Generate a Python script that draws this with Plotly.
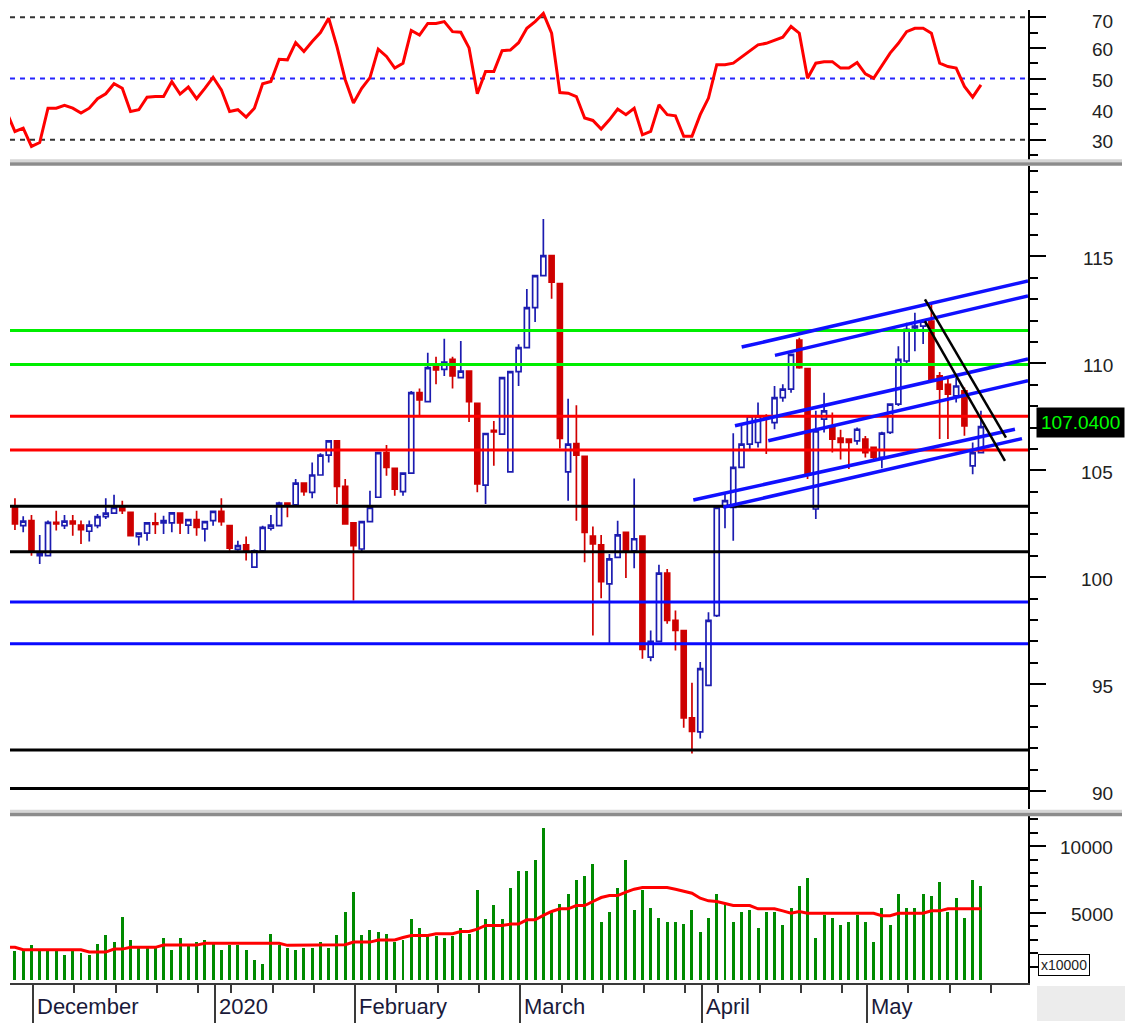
import plotly.graph_objects as go

# ---------------- data ----------------
bar_idx = list(range(118))
ind_idx = list(range(-1, 118))   # indicator lines start one session earlier (clipped at left edge)

opens = [103.27,102.41,102.65,101.01,101.01,102.57,102.41,102.62,102.44,102.15,
         102.41,102.83,103.00,103.27,103.03,101.90,102.06,102.54,102.54,102.54,
         103.00,102.44,102.69,102.26,102.65,103.08,102.41,101.30,101.52,100.47,
         101.24,102.29,102.41,103.47,103.38,104.40,103.97,104.78,105.71,106.38,
         104.25,102.54,101.32,102.60,103.74,105.83,105.09,104.00,104.87,108.63,
         108.21,109.88,109.72,110.19,109.33,109.64,108.13,104.31,106.87,106.69,
         104.93,109.61,110.73,112.60,114.10,115.04,113.73,104.93,106.25,105.65,
         101.92,101.51,99.69,100.93,102.10,101.24,101.92,96.27,97.00,100.19,
         97.98,97.51,93.43,92.77,94.95,98.21,103.30,103.27,105.14,106.22,
         106.30,107.54,107.23,108.40,108.79,111.09,109.75,103.19,107.39,107.08,
         106.50,106.46,106.38,106.46,106.07,105.60,106.77,108.09,110.11,111.66,
         111.74,111.97,109.41,109.02,108.48,108.71,105.21,105.83]
highs = [103.69,102.85,102.91,101.98,102.65,103.11,102.91,102.91,102.65,102.65,
         102.96,103.69,103.86,103.58,103.03,102.06,102.54,103.01,102.88,103.01,
         103.00,102.69,103.11,102.60,103.08,103.69,102.45,101.71,101.91,101.30,
         102.41,102.91,103.53,103.47,104.59,104.40,105.37,105.80,106.38,106.38,
         104.59,102.54,102.60,104.04,105.83,106.18,105.09,104.87,108.71,108.82,
         110.50,110.31,111.15,110.31,111.04,109.64,108.13,106.72,107.31,109.33,
         109.61,110.89,113.48,114.10,116.75,115.04,113.73,108.35,108.04,105.65,
         102.37,101.98,101.09,102.64,102.10,104.62,101.92,97.51,100.58,100.39,
         98.45,97.51,95.07,96.04,98.37,103.27,103.97,106.73,107.08,107.54,
         108.17,107.62,108.94,109.02,110.42,111.20,109.75,107.78,108.63,107.70,
         106.90,106.50,107.00,106.60,106.10,106.80,108.10,110.80,111.90,112.36,
         112.00,112.75,109.60,109.41,109.33,108.87,106.30,107.78]
lows = [102.21,102.10,101.01,100.62,101.01,102.18,102.26,101.94,101.56,101.67,
        102.29,102.72,102.96,102.96,101.94,101.48,101.71,102.02,102.02,102.10,
        102.02,102.02,101.94,101.67,102.41,102.41,101.24,101.24,100.78,100.47,
        101.24,102.18,102.41,102.80,103.38,103.81,103.69,104.78,105.37,103.42,
        102.49,98.91,101.20,102.60,103.74,104.74,103.81,103.81,104.87,107.57,
        108.21,109.02,109.41,108.82,109.33,107.26,103.97,103.42,105.21,106.69,
        104.93,108.94,110.73,111.93,114.10,113.02,106.02,103.58,102.64,100.70,
        97.28,99.02,96.89,100.93,99.96,100.42,96.19,96.07,97.00,97.83,
        96.58,92.96,91.76,92.46,94.95,98.14,102.29,101.71,105.14,105.99,
        106.07,105.76,106.92,108.20,108.63,109.75,104.59,102.72,106.77,105.83,
        105.50,105.06,106.20,105.60,105.50,105.10,106.70,108.00,110.00,110.57,
        110.90,109.20,106.46,106.46,108.17,106.62,104.82,105.83]
closes = [102.49,102.62,101.17,101.14,102.57,102.49,102.62,102.49,102.22,102.44,
          102.83,103.00,103.27,103.11,101.94,102.06,102.54,102.47,102.65,103.01,
          102.54,102.69,102.33,102.60,103.08,102.60,101.36,101.48,101.24,101.24,
          102.33,102.44,103.47,103.38,104.40,104.00,104.78,105.71,106.38,104.25,
          102.49,101.48,102.60,103.27,105.83,105.14,104.12,104.87,108.63,108.29,
          109.80,109.69,110.06,109.41,109.64,108.21,104.36,106.72,106.80,109.33,
          109.61,110.73,112.60,114.10,115.04,113.79,106.49,106.22,105.71,102.10,
          101.56,99.80,100.86,101.98,101.24,101.80,96.63,97.00,100.19,97.98,
          97.51,93.43,92.80,95.73,97.98,103.27,103.58,105.14,106.22,107.54,
          107.54,107.46,108.40,108.79,110.42,109.80,104.82,106.84,107.78,106.46,
          106.30,106.30,106.92,105.83,105.60,106.74,108.09,110.19,111.59,111.74,
          111.97,109.25,108.79,108.56,108.94,107.08,105.83,107.04]

rsi = [39.0,
       32.7,33.8,27.8,29.1,40.3,40.3,41.2,40.3,38.7,40.3,
       43.4,45.0,48.3,46.8,39.2,39.8,43.9,44.1,44.1,49.0,
       44.9,47.2,43.4,46.8,50.4,46.3,39.2,39.8,37.4,40.3,
       48.3,49.0,56.3,56.1,61.7,58.8,62.1,65.0,69.7,60.4,
       49.6,42.0,46.8,50.3,59.6,57.2,53.4,55.0,65.7,64.2,
       68.0,68.0,68.6,65.3,65.1,60.0,45.0,52.3,52.3,59.1,
       59.3,61.7,66.4,68.6,71.3,64.8,45.4,45.2,44.1,37.1,
       36.3,33.5,36.5,40.0,38.2,40.3,31.6,32.7,41.4,38.2,
       37.8,31.1,31.1,38.2,43.6,54.5,54.5,55.0,57.0,58.8,
       61.0,61.5,62.6,63.5,67.0,64.8,50.1,55.0,55.5,55.5,
       53.4,53.4,55.2,51.5,50.1,54.1,58.3,61.5,65.3,66.4,
       66.4,64.8,55.0,53.9,53.4,47.4,43.9,47.9]

volume = [2140,2190,2560,2190,2190,2190,1810,2190,2010,1810,
          2690,3310,2835,4680,2985,2340,2340,2340,3130,2240,
          3130,2490,2835,2985,2640,2240,2560,2560,2240,1490,
          1190,3430,2560,2390,2240,2390,2390,2835,2390,3310,
          5050,6565,3305,3730,3580,3430,2835,2985,4500,3880,
          3280,3280,3130,3280,3880,3430,6740,4500,5545,4500,
          6865,8110,8110,8975,11340,5075,5670,6415,7485,7785,
          8680,4325,5075,6865,8950,5245,6740,5370,4625,4325,
          4325,4180,5245,3580,4625,6415,5670,4325,5075,5245,
          3880,5075,5075,4050,5370,7010,7610,3130,4870,4625,
          4050,4325,4870,4325,2835,5370,4050,6415,5370,5370,
          6415,6265,7310,5075,6115,4625,7460,7010]

vol_ma = [2440,
          2440,2260,2260,2260,2260,2260,2260,2260,2260,2090,
          2090,2090,2310,2310,2440,2440,2440,2440,2610,2610,
          2610,2610,2610,2740,2740,2740,2740,2740,2740,2740,
          2740,2740,2740,2590,2590,2590,2590,2590,2590,2590,
          2635,2835,2835,2835,2995,2995,2995,3180,3330,3330,
          3330,3455,3455,3455,3630,3630,3805,4080,4080,4080,
          4180,4180,4500,4500,4825,5120,5320,5320,5570,5570,
          5870,6165,6315,6315,6565,6790,6910,6910,6910,6910,
          6790,6620,6490,6115,5920,5870,5745,5570,5570,5570,
          5320,5320,5320,5170,4995,5120,4995,4995,4995,4995,
          4995,4995,4995,4995,4995,4800,4800,4995,4995,4995,
          4995,5170,5170,5320,5320,5320,5320,5320]

green_levels = [111.54, 109.95]
red_levels = [107.53, 105.95]
black_levels = [103.32, 101.19, 91.93, 90.13]
blue_levels = [98.84, 96.89]

# trend lines: (start bar, start price, end bar, end price)
channel_lines = [(88.02, 110.76, 122.7, 113.85),
                 (92.05, 110.37, 122.7, 113.15),
                 (87.21, 107.08, 122.7, 110.20),
                 (91.24, 106.38, 122.7, 109.19),
                 (82.16, 103.61, 121.12, 106.92),
                 (85.79, 103.27, 121.97, 106.48)]
down_lines = [(110.22, 112.99, 120.03, 106.53),
              (110.22, 111.97, 119.91, 105.44)]

month_labels = ["December", "2020", "February", "March", "April", "May"]
month_pos = [2, 24, 41, 61, 83, 103]
week_pos = [7, 12, 17, 22, 26, 31, 36, 46, 51, 56, 66, 71, 76, 81, 85, 90, 95, 100, 108, 113, 118]

rsi_ticks = [30, 40, 50, 60, 70]
rsi_minor = [25, 35, 45, 55, 65]
rsi_levels = [70, 50, 30]
price_ticks = [90, 95, 100, 105, 110, 115]
price_minor = [89, 91, 92, 93, 94, 96, 97, 98, 99, 101, 102, 103, 104, 106, 107, 108, 109,
               111, 112, 113, 114, 116, 117, 118, 119]
vol_ticks = [5000, 10000]
vol_minor = [1000, 2000, 3000, 4000, 6000, 7000, 8000, 9000, 11000, 12000]
last_price = 107.04

# ---------------- figure ----------------
XR = [-0.6, 122.7]
fig = go.Figure()

# RSI panel
for lv in rsi_levels:
    fig.add_trace(go.Scatter(x=XR, y=[lv, lv], mode="lines", xaxis="x", yaxis="y",
                             line=dict(color="#2424ff" if lv == 50 else "#333333", width=2, dash="5px,5px"),
                             hoverinfo="skip", showlegend=False))
fig.add_trace(go.Scatter(x=ind_idx, y=rsi, mode="lines", xaxis="x", yaxis="y",
                         line=dict(color="#ff0000", width=3), showlegend=False))

# price panel
fig.add_trace(go.Candlestick(x=bar_idx, open=opens, high=highs, low=lows, close=closes,
                             xaxis="x2", yaxis="y2", showlegend=False,
                             increasing=dict(line=dict(color="#1c1cb0", width=1.7), fillcolor="#ffffff"),
                             decreasing=dict(line=dict(color="#d00000", width=1.7), fillcolor="#cc0000"),
                             whiskerwidth=0))
for levels, col in [(green_levels, "#00ee00"), (red_levels, "#ff0000"),
                    (black_levels, "#000000"), (blue_levels, "#0a0aff")]:
    for lv in levels:
        fig.add_trace(go.Scatter(x=XR, y=[lv, lv], mode="lines", xaxis="x2", yaxis="y2",
                                 line=dict(color=col, width=3), hoverinfo="skip", showlegend=False))
for (x0, y0, x1, y1) in channel_lines:
    fig.add_trace(go.Scatter(x=[x0, x1], y=[y0, y1], mode="lines", xaxis="x2", yaxis="y2",
                             line=dict(color="#1010ff", width=3.5), hoverinfo="skip", showlegend=False))
for (x0, y0, x1, y1) in down_lines:
    fig.add_trace(go.Scatter(x=[x0, x1], y=[y0, y1], mode="lines", xaxis="x2", yaxis="y2",
                             line=dict(color="#000000", width=2.5), hoverinfo="skip", showlegend=False))

# volume panel
fig.add_trace(go.Bar(x=bar_idx, y=volume, xaxis="x3", yaxis="y3", width=0.36,
                     marker=dict(color="#008a00", line=dict(width=0)), showlegend=False))
fig.add_trace(go.Scatter(x=ind_idx, y=vol_ma, mode="lines", xaxis="x3", yaxis="y3",
                         line=dict(color="#ff0000", width=3), showlegend=False))

# ---------------- layout ----------------
# The page body has an 8px default margin; the figure is sized/offset to compensate.
OFF = 8
FIG_W, FIG_H = 1133 - OFF, 1023 - OFF
H_TOP, H_BOT = 10, 985          # screen pixels of plot area
PX_L, PX_R = 10, 1028
PH = H_BOT - H_TOP

def py(pix):
    return (H_BOT - pix) / PH

def px(pix):
    return (pix - PX_L) / (PX_R - PX_L)

common_x = dict(range=XR, showgrid=False, zeroline=False, showticklabels=False, fixedrange=True)

def yax(domain, rng, tv, mv, tl=16):
    return dict(domain=domain, range=rng, side="right", showgrid=False, zeroline=False,
                showline=True, linecolor="#000000", linewidth=2,
                ticks="outside", tickmode="array", tickvals=tv, ticklen=tl, tickwidth=2,
                tickcolor="#000000", showticklabels=False,
                minor=dict(tickmode="array", tickvals=mv, ticks="outside", ticklen=8,
                           tickwidth=2, tickcolor="#000000"))

fig.update_layout(
    width=FIG_W, height=FIG_H,
    margin=dict(l=PX_L - OFF, r=FIG_W - (PX_R - OFF), t=H_TOP - OFF, b=FIG_H - (H_BOT - OFF)),
    paper_bgcolor="#ffffff", plot_bgcolor="#ffffff",
    bargap=0, boxgap=0.25, boxgroupgap=0.2, showlegend=False,
    xaxis=dict(anchor="y", **common_x),
    xaxis2=dict(anchor="y2", matches="x", rangeslider=dict(visible=False), **common_x),
    xaxis3=dict(anchor="y3", matches="x", range=XR, showgrid=False, zeroline=False,
                showticklabels=False, showline=True, linecolor="#3a3a3a", linewidth=2,
                ticks="outside", tickmode="array", tickvals=[m + 0.2 for m in month_pos],
                ticklen=38, tickwidth=2, tickcolor="#3a3a3a",
                minor=dict(tickmode="array", tickvals=[w + 0.2 for w in week_pos],
                           ticks="outside", ticklen=8, tickwidth=2, tickcolor="#3a3a3a")),
    yaxis=yax([py(160), 1.0], [23.48, 72.38], rsi_ticks, rsi_minor),
    yaxis2=yax([py(811), py(166)], [89.15, 119.24], price_ticks, price_minor),
    yaxis3=yax([0.0, py(817)], [-224, 12310], vol_ticks, vol_minor),
    font=dict(family="Liberation Sans, Arial, sans-serif"),
)

annotations = []
lab_font = dict(family="Liberation Sans, Arial, sans-serif", size=19, color="#222222")
for v in rsi_ticks:
    annotations.append(dict(xref="paper", yref="y", x=px(1114), y=v, text=str(v),
                            xanchor="right", yanchor="middle", showarrow=False, font=lab_font,
                            borderpad=0, yshift=-4 if v == 70 else -2))
for v in price_ticks:
    annotations.append(dict(xref="paper", yref="y2", x=px(1114), y=v, text=str(v),
                            xanchor="right", yanchor="middle", showarrow=False, font=lab_font,
                            borderpad=0, yshift=-2))
for v in vol_ticks:
    annotations.append(dict(xref="paper", yref="y3", x=px(1114), y=v, text=str(v),
                            xanchor="right", yanchor="middle", showarrow=False, font=lab_font,
                            borderpad=0, yshift=-1))
annotations.append(dict(xref="paper", yref="y2", x=px(1036), y=last_price, yshift=4,
                        text=f"{last_price:.4f}", xanchor="left", yanchor="middle",
                        showarrow=False, bgcolor="#000000", borderpad=4,
                        font=dict(family="Liberation Sans, Arial, sans-serif", size=19, color="#00ff00")))
annotations.append(dict(xref="paper", yref="paper", x=px(1038), y=py(967), text="x10000",
                        xanchor="left", yanchor="middle", showarrow=False, bgcolor="#ffffff",
                        bordercolor="#000000", borderwidth=1, borderpad=2,
                        font=dict(family="Liberation Sans, Arial, sans-serif", size=14, color="#222222")))
for lab, pos in zip(month_labels, month_pos):
    annotations.append(dict(xref="x3", yref="paper", x=pos + 0.2, y=py(1009), text=lab,
                            xanchor="left", yanchor="middle", xshift=2, showarrow=False,
                            font=dict(family="Liberation Sans, Arial, sans-serif", size=22, color="#1a1a3a")))
fig.update_layout(annotations=annotations)

shapes = []
for top in (159.5, 811.5):
    shapes.append(dict(type="rect", xref="paper", yref="paper", x0=0, x1=px(1122),
                       y0=py(top + 3), y1=py(top), fillcolor="#d6d6d6", line=dict(width=0), layer="above"))
    shapes.append(dict(type="rect", xref="paper", yref="paper", x0=0, x1=px(1122),
                       y0=py(top + 6.5), y1=py(top + 3), fillcolor="#8c8c8c", line=dict(width=0), layer="above"))
shapes.append(dict(type="rect", xref="paper", yref="paper", x0=px(1037), x1=px(1133),
                   y0=py(1023), y1=py(988), fillcolor="#ececec", line=dict(width=0), layer="below"))
fig.update_layout(shapes=shapes)

fig.write_html("out.html")
